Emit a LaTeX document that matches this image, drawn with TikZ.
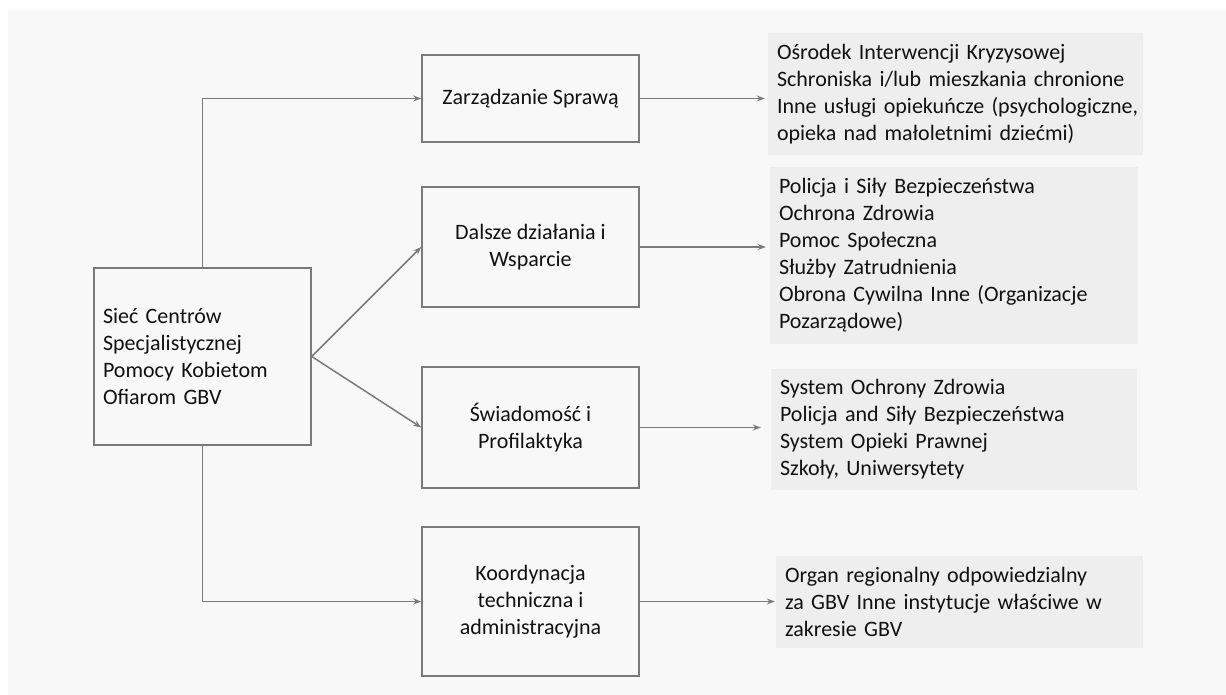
\documentclass[tikz,border=0pt]{standalone}
\usepackage{fontspec}
\setmainfont{Carlito}
\usepackage{tikz}
\usetikzlibrary{arrows.meta,positioning}
\definecolor{linegrey}{HTML}{7A7A7A}
\definecolor{listgrey}{HTML}{EEEEEE}
\definecolor{panelbg}{HTML}{F8F8F8}
\definecolor{inkdark}{HTML}{111111}

\begin{document}
\begin{tikzpicture}[x=1pt, y=-1pt, >={Stealth[length=8pt,width=6pt]},
  every node/.style={font=\fontsize{22}{27}\selectfont, text=inkdark},
  stage/.style={draw=linegrey, line width=1.5pt, minimum width=217pt, align=center, inner sep=0pt},
  listbox/.style={fill=listgrey, align=left, inner xsep=9pt, inner ysep=0pt},
  link/.style={->, draw=linegrey, line width=1.5pt}]
\useasboundingbox (0,0) rectangle (1226,695);
\fill[panelbg] (8,10) rectangle (1226,695);
%--- Network (left) ---
\node[stage, minimum height=177pt, text width=199pt, align=left] (siec) at (202.5,356.5)
  {Sieć Centrów\\Specjalistycznej\\Pomocy Kobietom\\Ofiarom GBV};
%--- Areas of action (middle) ---
\node[stage, minimum height=87pt] (zarz) at (530.5,98.5) {Zarządzanie Sprawą};
\node[stage, minimum height=120pt] (dalsze) at (530.5,247) {Dalsze działania i\\Wsparcie};
\node[stage, minimum height=121pt] (swiad) at (530.5,427.5) {Świadomość i\\Profilaktyka};
\node[stage, minimum height=149pt] (koord) at (530.5,601.5) {Koordynacja\\techniczna i\\administracyjna};
%--- Partner lists (right) ---
\node[listbox, text width=357pt, minimum height=122pt] (lista1) at (955.5,94)
  {Ośrodek Interwencji Kryzysowej\\Schroniska i/lub mieszkania chronione\\\mbox{Inne usługi opiekuńcze (psychologiczne,}\\opieka nad małoletnimi dziećmi)};
\node[listbox, text width=350pt, minimum height=177pt] (lista2) at (954,255.5)
  {Policja i Siły Bezpieczeństwa\\Ochrona Zdrowia\\Pomoc Społeczna\\Służby Zatrudnienia\\Obrona Cywilna Inne (Organizacje\\Pozarządowe)};
\node[listbox, text width=348pt, minimum height=121pt] (lista3) at (954,429.5)
  {System Ochrony Zdrowia\\Policja and Siły Bezpieczeństwa\\System Opieki Prawnej\\Szkoły, Uniwersytety};
\node[listbox, text width=349pt, minimum height=92pt] (lista4) at (959.5,602)
  {Organ regionalny odpowiedzialny\\za GBV Inne instytucje właściwe w\\zakresie GBV};
% Connectors
\draw[link] (siec.north) |- (zarz.west);
\draw[link] (siec.east) -- (dalsze.west);
\draw[link] (siec.east) -- (swiad.west);
\draw[link] (siec.south) |- (koord.west);
\draw[link, shorten >=3pt] (zarz.east) -- (zarz.east -| lista1.west);
\draw[link, shorten >=4pt] (dalsze.east) -- (dalsze.east -| lista2.west);
\draw[link, shorten >=10pt] (swiad.east) -- (swiad.east -| lista3.west);
\draw[link, shorten >=1pt] (koord.east) -- (koord.east -| lista4.west);
\end{tikzpicture}
\end{document}
